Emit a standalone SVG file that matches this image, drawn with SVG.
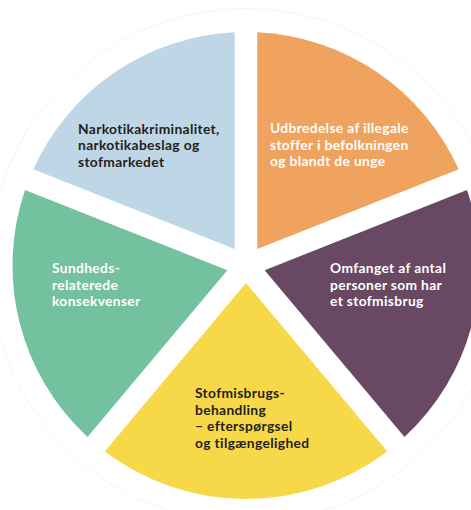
<svg xmlns="http://www.w3.org/2000/svg" width="471" height="510" viewBox="0 0 471 510">
<style>
.t{font-family:Lato,"Open Sans","Liberation Sans",sans-serif;font-weight:700;font-size:13.8px;letter-spacing:0.35px}
.w{fill:#ffffff}
.d{fill:#231f20}
</style>
<rect width="471" height="510" fill="#ffffff"/>
<circle cx="246" cy="265.5" r="257" fill="none" stroke="#f5f5f5" stroke-width="1"/>
<g id="blue">
<path d="M234.75,248.95 L33.29,169.17 A233.5,233.5 0 0 1 234.75,32.27 Z" fill="#bed6e5"/>
<text class="t d"><tspan x="78" y="133.5">Narkotikakriminalitet,</tspan><tspan x="78" y="150">narkotikabeslag og</tspan><tspan x="78" y="166.5">stofmarkedet</tspan></text>
</g>
<g id="orange">
<path d="M257.25,248.95 L257.25,32.27 A233.5,233.5 0 0 1 458.71,169.17 Z" fill="#efa35f"/>
<text class="t w"><tspan x="270" y="133">Udbredelse af illegale</tspan><tspan x="270" y="149.5">stoffer i befolkningen</tspan><tspan x="270" y="166">og blandt de unge</tspan></text>
</g>
<g id="purple">
<path d="M264.64,270.22 L466.99,190.11 A233.5,233.5 0 0 1 404.53,436.94 Z" fill="#684862"/>
<text class="t w"><tspan x="330" y="273">Omfanget af antal</tspan><tspan x="330" y="289.5">personer som har</tspan><tspan x="330" y="306">et stofmisbrug</tspan></text>
</g>
<g id="yellow">
<path d="M246,283 L387.28,451.41 A233.5,233.5 0 0 1 104.72,451.41 Z" fill="#f7d849"/>
<text class="t d"><tspan x="195" y="398">Stofmisbrugs-</tspan><tspan x="195" y="414.5">behandling</tspan><tspan x="195" y="431">– efterspørgsel</tspan><tspan x="195" y="447.5">og tilgængelighed</tspan></text>
</g>
<g id="green">
<path d="M227.36,270.22 L87.47,436.94 A233.5,233.5 0 0 1 25.01,190.11 Z" fill="#73c19f"/>
<text class="t w"><tspan x="52" y="273">Sundheds-</tspan><tspan x="52" y="289.5">relaterede</tspan><tspan x="52" y="306">konsekvenser</tspan></text>
</g>
<g id="connectors"/>
</svg>
